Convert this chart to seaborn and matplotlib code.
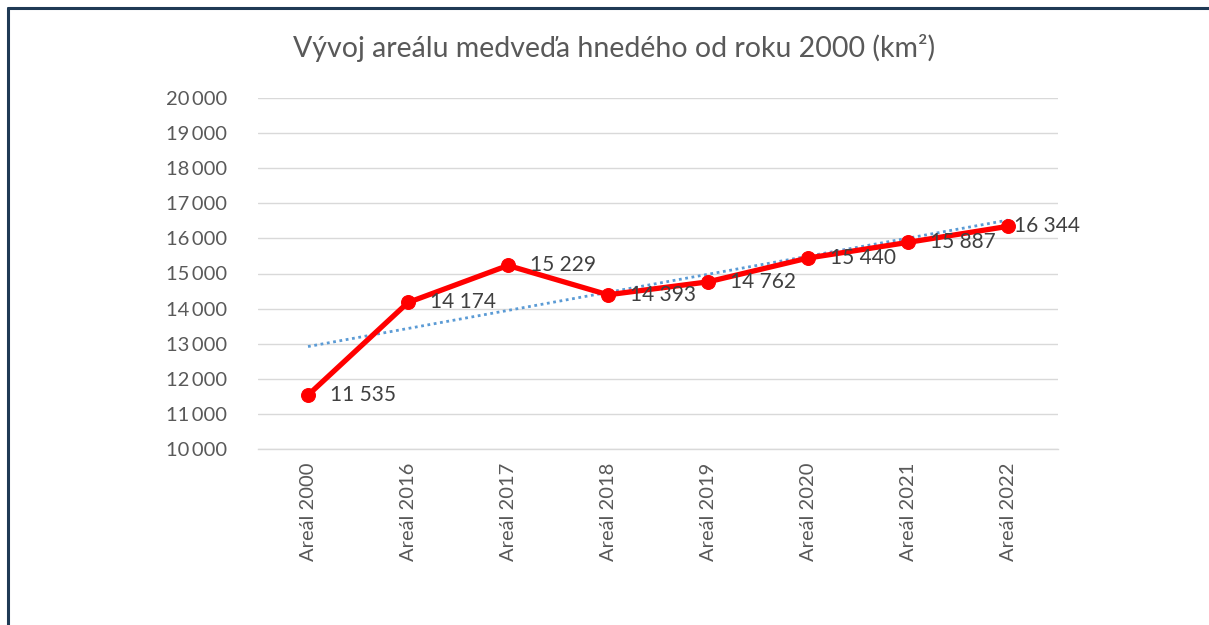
import numpy as np
import pandas as pd
import matplotlib
matplotlib.use("Agg")
import matplotlib.pyplot as plt
import seaborn as sns
from matplotlib.ticker import FuncFormatter, FixedLocator
from matplotlib.lines import Line2D

# ---- data ----
categories = ["Areál 2000", "Areál 2016", "Areál 2017", "Areál 2018",
              "Areál 2019", "Areál 2020", "Areál 2021", "Areál 2022"]
values = [11535, 14174, 15229, 14393, 14762, 15440, 15887, 16344]
y_ticks = [10000, 11000, 12000, 13000, 14000, 15000, 16000, 17000, 18000, 19000, 20000]
title = "Vývoj areálu medveďa hnedého od roku 2000 (km²)"

sns.set_theme(style="white")
plt.rcParams['font.family'] = ['Lato', 'DejaVu Sans']

def fmt(v, sep=" "):
    return f"{int(round(v)):,}".replace(",", sep)

df = pd.DataFrame({"cat": categories, "val": values, "x": np.arange(len(categories))})

fig = plt.figure(figsize=(12.09, 6.25), dpi=100)
ax = fig.add_axes([258/1209, 1-449/625, 800/1209, 351/625])

# gridlines
ax.set_ylim(y_ticks[0], y_ticks[-1])
ax.set_xlim(-0.5, len(categories)-0.5)
ax.yaxis.set_major_locator(FixedLocator(y_ticks))
ax.yaxis.set_major_formatter(FuncFormatter(lambda v, p: fmt(v, "\u2009")))
ax.grid(axis="y", color="#d9d9d9", linewidth=1.0)
ax.set_axisbelow(True)

# trendline (linear fit)
coef = np.polyfit(df["x"], df["val"], 1)
trend = np.polyval(coef, df["x"])
ax.plot(df["x"], trend, linestyle=(0, (1, 1.3)), color="#5B9BD5", linewidth=2.0, zorder=2)

# main line
sns.lineplot(data=df, x="x", y="val", ax=ax, color="#FF0000", linewidth=3.8,
             marker="o", markersize=10, markeredgecolor="#FF0000", zorder=3)

# data labels
for i, (xv, yv) in enumerate(zip(df["x"], df["val"])):
    off = 6 if i == len(values)-1 else 22
    ax.annotate(fmt(yv), (xv, yv), xytext=(off, 0), textcoords="offset pixels",
                ha="left", va="center", fontsize=15, color="#404040", zorder=4)

ax.set_xticks(df["x"])
ax.set_xticklabels(categories, rotation=90)
ax.set_xlabel("")
ax.set_ylabel("")
ax.tick_params(axis="both", length=0, labelcolor="#595959", labelsize=14.5)
ax.tick_params(axis="y", pad=22)
ax.tick_params(axis="x", pad=10)
for s in ["top", "right", "left"]:
    ax.spines[s].set_visible(False)
ax.spines["bottom"].set_color("#d9d9d9")
ax.spines["bottom"].set_linewidth(1.0)

fig.text(614/1209, 1-48/625, title, ha="center", va="center", fontsize=20.5, color="#595959")

# frame (top and left edges)
fig.add_artist(Line2D([8/1209, 1.0], [1-8/625, 1-8/625], transform=fig.transFigure,
                      color="#1F3A55", linewidth=2.2))
fig.add_artist(Line2D([8/1209, 8/1209], [0, 1-8/625], transform=fig.transFigure,
                      color="#1F3A55", linewidth=2.2))

fig.savefig("out.png", dpi=100)
